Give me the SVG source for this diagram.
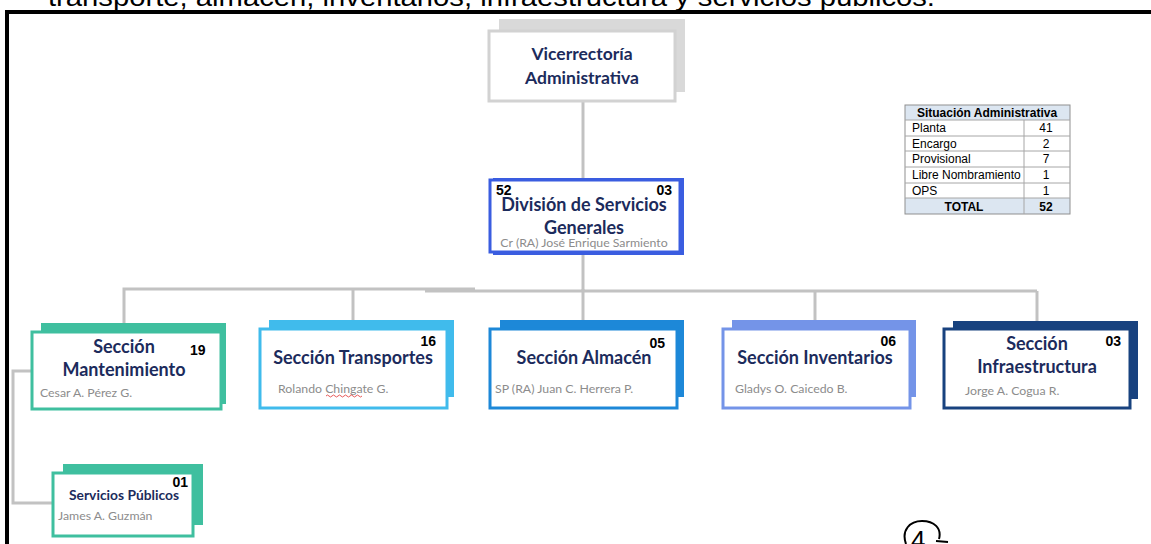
<svg xmlns="http://www.w3.org/2000/svg" width="1151" height="544" viewBox="0 0 1151 544">
<style>
.t{font-family:Lato,"Open Sans","Liberation Sans",sans-serif;font-weight:bold;fill:#1c2b5c;text-anchor:middle}
.n{font-family:"Liberation Sans",Arial,sans-serif;font-weight:bold;fill:#000;font-size:14px}
.s{font-family:Lato,"Open Sans","Liberation Sans",sans-serif;fill:#8c8c8c;font-size:12.3px}
.front{fill:#fff;stroke-width:3}
.conn{stroke:#c2c2c2;stroke-width:3;fill:none}
.tb{font-family:"Liberation Sans",Arial,sans-serif;font-size:12px;fill:#000}
.tl{stroke:#a6a6a6;stroke-width:1}
</style>
<rect width="1151" height="544" fill="#fff"/>
<text x="48" y="6" font-family="Liberation Sans,Arial,sans-serif" font-size="25" fill="#000" textLength="887" lengthAdjust="spacingAndGlyphs">transporte, almacén, inventarios, infraestructura y servicios públicos.</text>
<g id="frame" fill="#000">
<rect x="5" y="10" width="1146" height="4"/>
<rect x="5" y="10" width="4" height="534"/>
</g>
<g id="connectors" class="conn">
<line x1="583" y1="101" x2="583" y2="180"/>
<line x1="583" y1="254" x2="583" y2="291"/>
<polyline points="124,329 124,289 475,289"/>
<line x1="425" y1="291" x2="1037" y2="291"/>
<line x1="353" y1="289" x2="353" y2="329"/>
<line x1="583" y1="289" x2="583" y2="329"/>
<line x1="815" y1="291" x2="815" y2="329"/>
<line x1="1037" y1="291" x2="1037" y2="329"/>
<polyline points="31,371 13,371 13,503 53,503"/>
</g>
<g id="vicerrectoria">
<rect x="499" y="19" width="186" height="73" fill="#d9d9d9"/>
<rect x="489" y="31" width="186" height="70" class="front" stroke="#d2d2d2"/>
<text class="t" x="582" y="60" font-size="17.5">Vicerrectoría</text>
<text class="t" x="582" y="84" font-size="17.5">Administrativa</text>
</g>
<g id="division">
<rect x="493" y="178" width="191" height="77" fill="#3a5de0"/>
<rect x="490" y="180" width="190" height="72" class="front" stroke="#3a5de0"/>
<text class="n" x="496" y="195">52</text>
<text class="n" x="672" y="195" text-anchor="end">03</text>
<text class="t" x="584" y="211" font-size="18">División de Servicios</text>
<text class="t" x="584" y="234" font-size="18">Generales</text>
<text class="s" x="584" y="247" text-anchor="middle" font-size="12.2">Cr (RA) José Enrique Sarmiento</text>
</g>
<g id="tabla">
<rect x="905" y="105" width="165" height="15" fill="#dce6f1"/>
<rect x="905" y="198" width="165" height="16" fill="#dce6f1"/>
<rect x="905" y="105" width="165" height="109" fill="none" stroke="#8f8f8f" stroke-width="1"/>
<line class="tl" x1="905" y1="120" x2="1070" y2="120"/>
<line class="tl" x1="905" y1="136" x2="1070" y2="136"/>
<line class="tl" x1="905" y1="151" x2="1070" y2="151"/>
<line class="tl" x1="905" y1="167" x2="1070" y2="167"/>
<line class="tl" x1="905" y1="183" x2="1070" y2="183"/>
<line class="tl" x1="905" y1="198" x2="1070" y2="198"/>
<line class="tl" x1="1024" y1="120" x2="1024" y2="214"/>
<text class="tb" x="987" y="117" text-anchor="middle" font-weight="bold">Situación Administrativa</text>
<text class="tb" x="912" y="132">Planta</text>
<text class="tb" x="912" y="148">Encargo</text>
<text class="tb" x="912" y="163">Provisional</text>
<text class="tb" x="912" y="179">Libre Nombramiento</text>
<text class="tb" x="912" y="195">OPS</text>
<text class="tb" x="964" y="211" text-anchor="middle" font-weight="bold">TOTAL</text>
<text class="tb" x="1046" y="132" text-anchor="middle">41</text>
<text class="tb" x="1046" y="148" text-anchor="middle">2</text>
<text class="tb" x="1046" y="163" text-anchor="middle">7</text>
<text class="tb" x="1046" y="179" text-anchor="middle">1</text>
<text class="tb" x="1046" y="195" text-anchor="middle">1</text>
<text class="tb" x="1046" y="211" text-anchor="middle" font-weight="bold">52</text>
</g>
<g id="mantenimiento">
<rect x="41" y="323" width="185" height="81" fill="#3fbf9f"/>
<rect x="32" y="332" width="189" height="77" class="front" stroke="#3fbf9f"/>
<text class="t" x="124" y="353" font-size="18">Sección</text>
<text class="t" x="124" y="376" font-size="18">Mantenimiento</text>
<text class="n" x="190" y="355">19</text>
<text class="s" x="40" y="397">Cesar A. Pérez G.</text>
</g>
<g id="transportes">
<rect x="269" y="320" width="185" height="77" fill="#40bbec"/>
<rect x="260" y="329" width="187" height="79" class="front" stroke="#40bbec"/>
<text class="n" x="436" y="346" text-anchor="end">16</text>
<text class="t" x="353" y="364" font-size="18">Sección Transportes</text>
<text class="s" x="278" y="393">Rolando Chingate G.</text>
<path d="M326,396 q1.5,-2 3,0 t3,0 t3,0 t3,0 t3,0 t3,0 t3,0 t3,0 t3,0 t3,0 t3,0 t3,0" fill="none" stroke="#e03030" stroke-width="0.8"/>
</g>
<g id="almacen">
<rect x="500" y="320" width="184" height="77" fill="#1d88d8"/>
<rect x="490" y="329" width="187" height="79" class="front" stroke="#1d88d8"/>
<text class="n" x="665" y="348" text-anchor="end">05</text>
<text class="t" x="584" y="364" font-size="18">Sección Almacén</text>
<text class="s" x="495" y="393">SP (RA) Juan C. Herrera P.</text>
</g>
<g id="inventarios">
<rect x="732" y="320" width="184" height="77" fill="#7494e8"/>
<rect x="723" y="329" width="187" height="79" class="front" stroke="#7494e8"/>
<text class="n" x="896" y="346" text-anchor="end">06</text>
<text class="t" x="815" y="364" font-size="18">Sección Inventarios</text>
<text class="s" x="735" y="393">Gladys O. Caicedo B.</text>
</g>
<g id="infraestructura">
<rect x="953" y="321" width="185" height="78" fill="#18427f"/>
<rect x="944" y="329" width="186" height="79" class="front" stroke="#18427f"/>
<text class="n" x="1121" y="346" text-anchor="end">03</text>
<text class="t" x="1037" y="350" font-size="18">Sección</text>
<text class="t" x="1037" y="373" font-size="18">Infraestructura</text>
<text class="s" x="965" y="395">Jorge A. Cogua R.</text>
</g>
<g id="servicios-publicos">
<rect x="63" y="464" width="140" height="61" fill="#3fbf9f"/>
<rect x="53" y="473" width="140" height="63" class="front" stroke="#3fbf9f"/>
<text class="n" x="188" y="487" text-anchor="end">01</text>
<text class="t" x="124" y="500" font-size="13.8">Servicios Públicos</text>
<text class="s" x="58" y="520">James A. Guzmán</text>
</g>
<g id="marca" fill="none" stroke="#000" stroke-width="2">
<path d="M906,544 C901,530 910,521 922,521 C934,521 942,528 939,539"/>
<path d="M936,541 L948,542"/>
<text x="911" y="549" font-family="Liberation Sans,Arial,sans-serif" font-size="26" fill="#000" stroke="none">4</text>
</g>
</svg>
